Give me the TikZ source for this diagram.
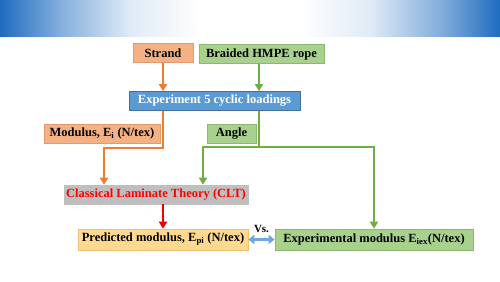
\documentclass[tikz,border=0pt]{standalone}
\usepackage{fontspec}
\setmainfont{Liberation Serif}
\usepackage{xcolor}
\usetikzlibrary{arrows.meta}

\definecolor{bannerblue}{HTML}{1F6CC0}
\definecolor{salmonfill}{HTML}{F4B183}
\definecolor{salmonline}{HTML}{E39A6C}
\definecolor{leaffill}{HTML}{A9D18E}
\definecolor{leafline}{HTML}{8BB96E}
\definecolor{skyfill}{HTML}{5B9BD5}
\definecolor{skyline}{HTML}{41719C}
\definecolor{greyfill}{HTML}{BFBFBF}
\definecolor{goldfill}{HTML}{FFD98E}
\definecolor{goldline}{HTML}{F0C070}
\definecolor{orangearr}{HTML}{ED7D31}
\definecolor{greenarr}{HTML}{70AD47}
\definecolor{redarr}{HTML}{F00000}
\definecolor{vsblue}{HTML}{6FA8DC}

\pgfdeclarehorizontalshading{banner}{100bp}{%
  color(0bp)=(bannerblue); color(25bp)=(bannerblue);
  color(31bp)=(bannerblue!55!white); color(38bp)=(bannerblue!14!white);
  color(45bp)=(white); color(55bp)=(white);
  color(62bp)=(bannerblue!14!white); color(69bp)=(bannerblue!55!white);
  color(75bp)=(bannerblue); color(100bp)=(bannerblue)}

\tikzset{
  box/.style={draw, line width=0.6pt, inner sep=0pt, minimum height=19pt,
    font=\fontsize{12.5}{14}\selectfont\bfseries},
  salmonbox/.style={box, fill=salmonfill, draw=salmonline},
  leafbox/.style={box, fill=leaffill, draw=leafline},
  arr/.style={line width=1.9pt, -{Triangle[width=8pt,length=7pt]}},
}

\begin{document}
\begin{tikzpicture}[x=1pt,y=-1pt]
  \useasboundingbox (0,0) rectangle (500,281);
  % banner
  \shade[shading=banner] (0,0) rectangle (500,36);

  % boxes
  \node[salmonbox, minimum width=60pt] (strand) at (163,53) {Strand};
  \node[leafbox, minimum width=125pt] (rope) at (261.5,54) {Braided HMPE rope};
  \node[box, fill=skyfill, draw=skyline, text=white, minimum width=171pt] (exp) at (214.5,101) {Experiment 5 cyclic loadings};
  \node[salmonbox, minimum width=116pt] (mod) at (102,133.5) {Modulus, E\textsubscript{i} (N/tex)};
  \node[leafbox, minimum width=49pt] (angle) at (231.5,133.5) {Angle};
  \node[box, fill=greyfill, draw=greyfill, text=red, minimum width=184pt] (clt) at (156,194.5) {Classical Laminate Theory (CLT)};
  \node[box, fill=goldfill, draw=goldline, minimum width=170pt, minimum height=21pt] (pred) at (163,239.5) {Predicted modulus, E\textsubscript{pi} (N/tex)};
  \node[leafbox, minimum width=198pt, minimum height=21pt] (expmod) at (374,239.5) {Experimental modulus E\textsubscript{iex}(N/tex)};
  \node[font=\fontsize{11}{12}\selectfont\bfseries] (vs) at (261.5,229) {Vs.};

  % turning points
  \coordinate (oturn) at (104,148);
  \coordinate (gturn) at (203,147);

  % connectors
  \draw[arr, orangearr] (strand) -- (strand |- exp.north);
  \draw[arr, greenarr] (rope.south -| 259,0) -- (exp.north -| 259,0);
  \draw[arr, orangearr] (exp.south -| strand) |- (oturn) -- (oturn |- clt.north);
  \draw[arr, greenarr] (exp.south -| 259,0) |- (gturn) -- (gturn |- clt.north);
  \draw[arr, greenarr] (exp.south -| 259,0) |- (expmod.north |- gturn) -- (expmod.north);
  \draw[arr, redarr] (clt.south -| pred) -- (pred.north);
  \draw[vsblue, line width=3pt, {Triangle[width=9pt,length=6pt]}-{Triangle[width=9pt,length=6pt]}] (pred.east) -- (expmod.west);
\end{tikzpicture}
\end{document}
